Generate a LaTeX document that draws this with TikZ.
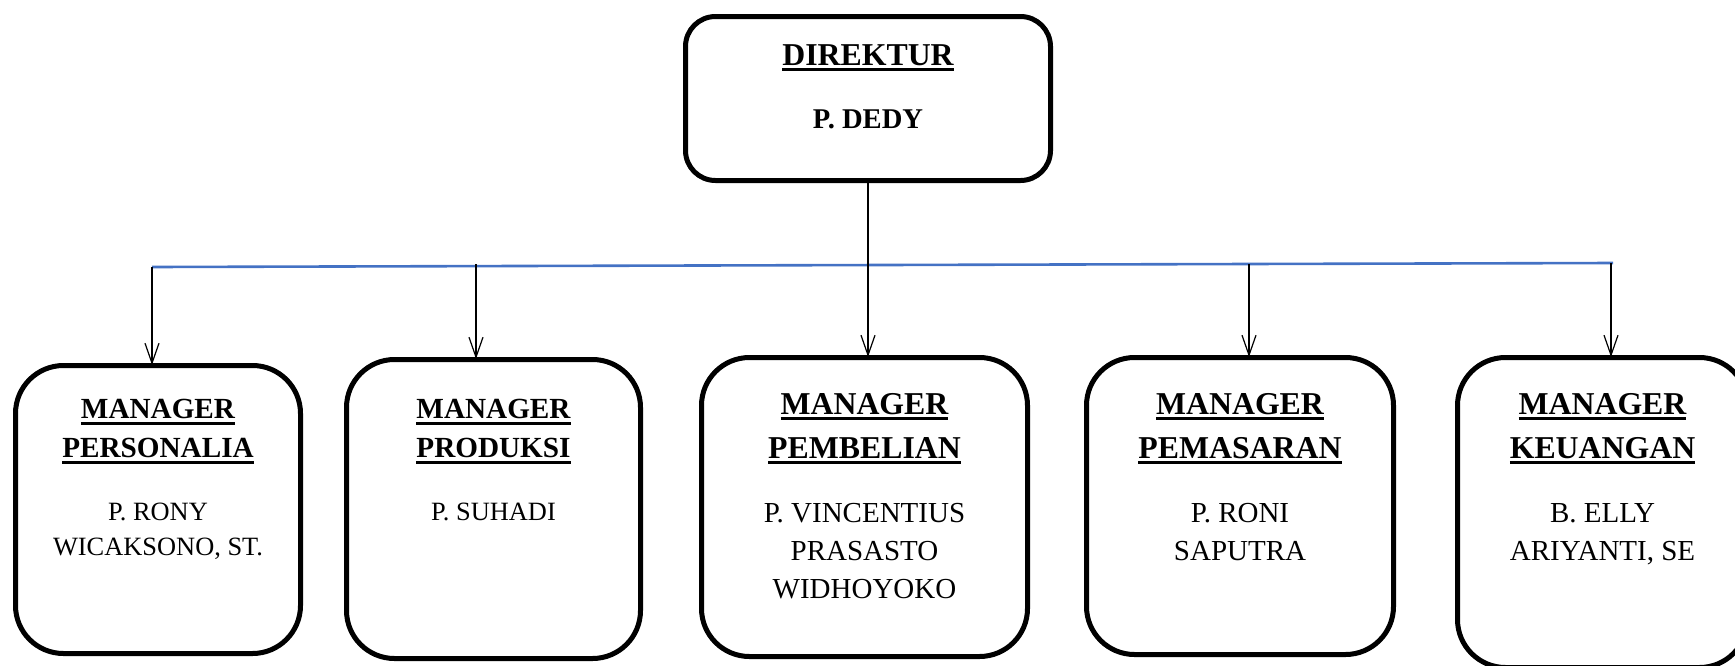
\documentclass[tikz,border=0pt]{standalone}
\usepackage{fontspec}
\setmainfont{Liberation Serif}
\usepackage{tikz}
\usetikzlibrary{positioning, arrows.meta}
\definecolor{BusBlue}{RGB}{68,114,196}
\tikzset{HeadBox/.style={%
    shape=rectangle,%
    draw=black,%
    line width=2.5pt,%
    rounded corners=15pt,%
    minimum width=182.5pt,%
    minimum height=82pt,%
    inner sep=0pt,%
}}
\tikzset{UnitBox/.style={%
    shape=rectangle,%
    draw=black,%
    line width=2.5pt,%
    rounded corners=24pt,%
    inner sep=0pt,%
}}
\tikzset{HeadTitle/.style={%
    align=center,%
    inner sep=0pt,%
    font=\bfseries\fontsize{15.9}{22}\selectfont,%
}}
\tikzset{HeadName/.style={%
    align=center,%
    inner sep=0pt,%
    font=\bfseries\fontsize{14.3}{19}\selectfont,%
}}
\tikzset{UnitTitle/.style={%
    align=center,%
    inner sep=0pt,%
    font=\bfseries\fontsize{15.9}{22}\selectfont,%
}}
\tikzset{SmallUnitTitle/.style={%
    align=center,%
    inner sep=0pt,%
    font=\bfseries\fontsize{14.6}{19.5}\selectfont,%
}}
\tikzset{UnitName/.style={%
    align=center,%
    inner sep=0pt,%
    font=\fontsize{14.5}{19}\selectfont,%
}}
\tikzset{SmallUnitName/.style={%
    align=center,%
    inner sep=0pt,%
    font=\fontsize{13.2}{17.5}\selectfont,%
}}
\tikzset{BusLine/.style={%
    draw=BusBlue,%
    line width=1.3pt,%
}}
\tikzset{LinkEdge/.style={%
    -{Straight Barb[length=10pt, width=7pt]},%
    line width=0.6pt,%
    shorten >=-1pt,%
}}
\NewDocumentCommand{\titleLine}{m}{%
    \leavevmode\setbox0=\hbox{#1}%
    \rlap{\rule[-3pt]{\wd0}{1.6pt}}\box0%
}

\begin{document}
\begin{tikzpicture}[x=0.5pt, y=0.5pt]
    \useasboundingbox (0,0) rectangle (1735,-665);

    \node[HeadBox] (dir) at (868,-98.5) {};
    \node[UnitBox, minimum width=142.5pt, minimum height=144pt] (mPers) at (158,-509.5) {};
    \node[UnitBox, minimum width=147pt, minimum height=149.5pt] (mProd) at (493.5,-509) {};
    \node[UnitBox, minimum width=163pt, minimum height=149.5pt] (mPemb) at (864.5,-507) {};
    \node[UnitBox, minimum width=153.5pt, minimum height=148.5pt] (mPems) at (1240,-506) {};
    \node[UnitBox, minimum width=145pt, minimum height=155pt] (mKeu) at (1602.5,-512.5) {};

    \node[HeadTitle, below=15pt of dir.north] (dirTitle) {\titleLine{DIREKTUR}};
    \node[HeadName, below=47.5pt of dir.north] (dirName) {P. DEDY};

    \node[SmallUnitTitle, below=18pt of mPers.north] (persTitle) {\titleLine{MANAGER}\\\titleLine{PERSONALIA}};
    \node[SmallUnitName, below=70pt of mPers.north] (persName) {P. RONY\\WICAKSONO, ST.};
    \node[SmallUnitTitle, below=21pt of mProd.north] (prodTitle) {\titleLine{MANAGER}\\\titleLine{PRODUKSI}};
    \node[SmallUnitName, below=73pt of mProd.north] (prodName) {P. SUHADI};
    \node[UnitTitle, below=19pt of mPemb.north] (pembTitle) {\titleLine{MANAGER}\\\titleLine{PEMBELIAN}};
    \node[UnitName, below=74pt of mPemb.north] (pembName) {P. VINCENTIUS\\PRASASTO\\WIDHOYOKO};
    \node[UnitTitle, below=19pt of mPems.north] (pemsTitle) {\titleLine{MANAGER}\\\titleLine{PEMASARAN}};
    \node[UnitName, below=74pt of mPems.north] (pemsName) {P. RONI\\SAPUTRA};
    \node[UnitTitle, below=19pt of mKeu.north] (keuTitle) {\titleLine{MANAGER}\\\titleLine{KEUANGAN}};
    \node[UnitName, below=74pt of mKeu.north] (keuName) {B. ELLY\\ARIYANTI, SE};

    \coordinate (busL) at (152,-267);
    \coordinate (busR) at (1613,-263);
    \coordinate (tPers) at (152,-267);
    \coordinate (tProd) at (476,-264);
    \coordinate (tPems) at (1249,-264);
    \coordinate (tKeu) at (1611,-263);

    \path (busL) edge[BusLine] (busR);
    \draw[LinkEdge] (dir.south) -- (dir.south |- mPemb.north);
    \draw[LinkEdge] (tPers) -- (tPers |- mPers.north);
    \draw[LinkEdge] (tProd) -- (tProd |- mProd.north);
    \draw[LinkEdge] (tPems) -- (tPems |- mPems.north);
    \draw[LinkEdge] (tKeu) -- (tKeu |- mKeu.north);
\end{tikzpicture}
\end{document}
